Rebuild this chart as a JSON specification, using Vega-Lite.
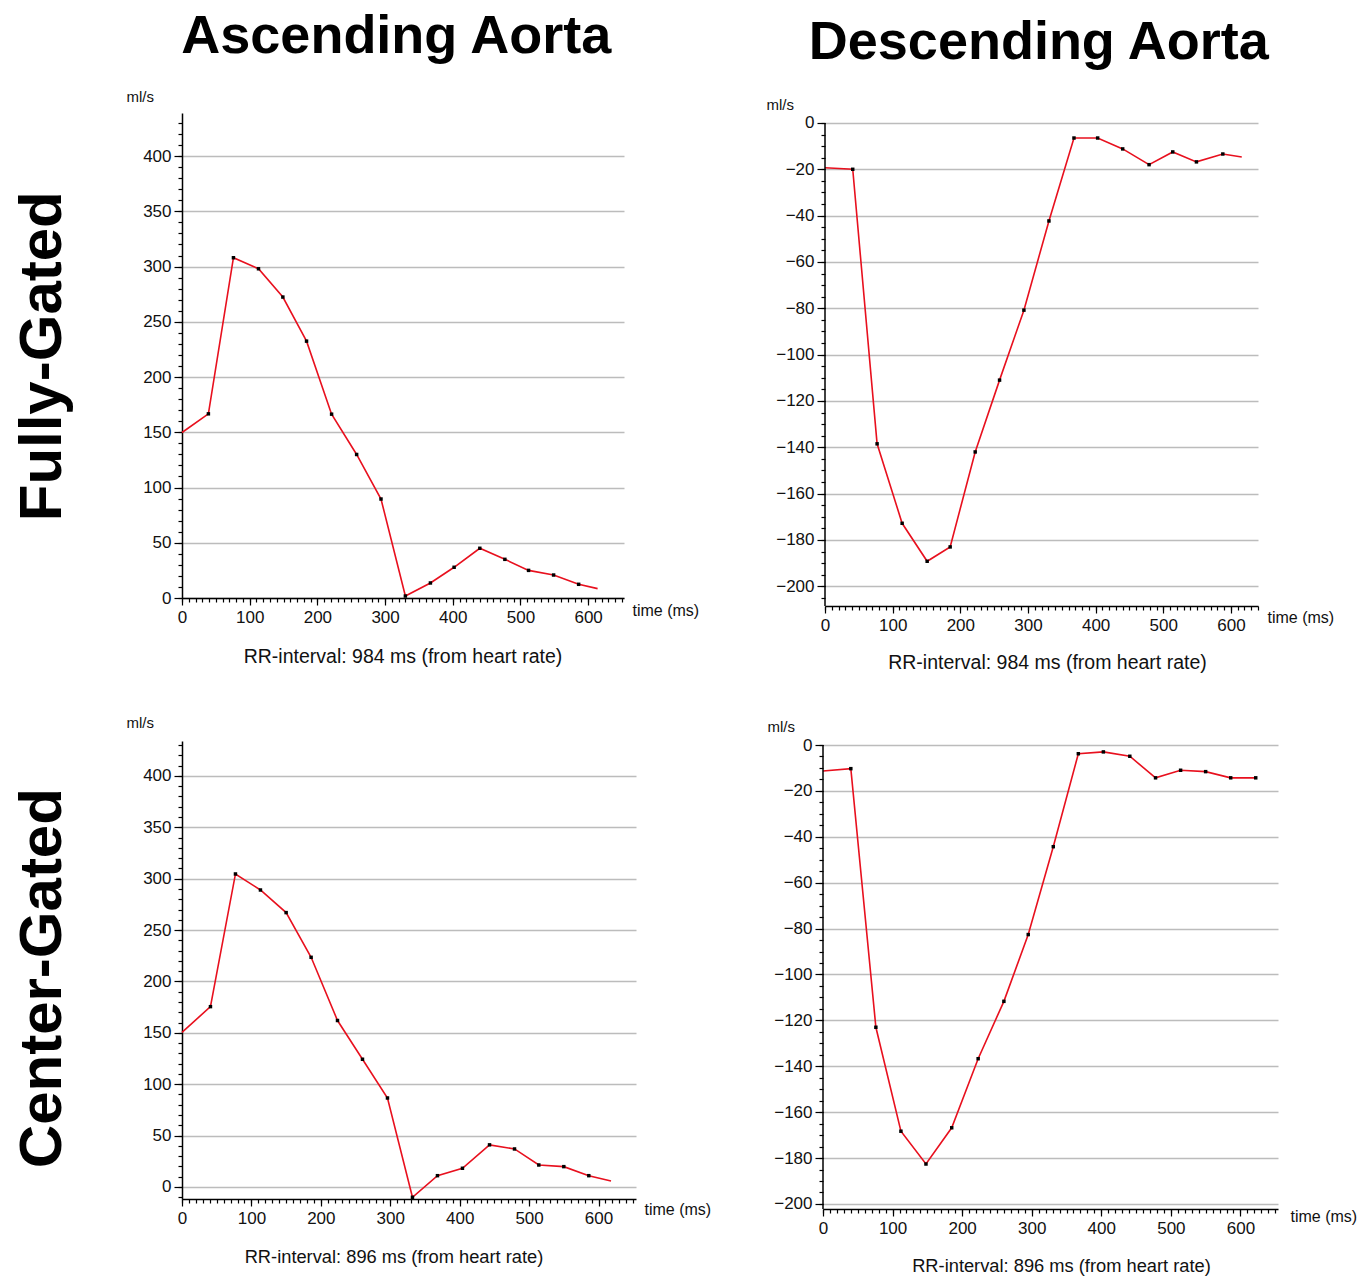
{
  "$schema": "https://vega.github.io/schema/vega-lite/v6.json",
  "padding": {"left": 12, "top": 10, "right": 5, "bottom": 2},
  "background": "white",
  "config": {
    "view": {"stroke": null},
    "axis": {
      "labelFont": "Liberation Sans", "labelFontSize": 17, "labelColor": "#111111", "labelFlush": false,
      "domainColor": "#000000", "domainWidth": 1.5, "tickColor": "#000000", "tickWidth": 1.2,
      "gridColor": "#bcbcbc", "gridWidth": 1.5, "labelPadding": 3,
      "titleFont": "Liberation Sans", "titleFontWeight": "normal", "titleColor": "#111111"
    },
    "title": {"font": "Liberation Sans", "color": "#000000"}
  },
  "datasets": {
    "fa": [
      {"t": 0, "v": 149.8, "dot": false}, {"t": 39, "v": 166.7, "dot": true}, {"t": 76, "v": 308, "dot": true},
      {"t": 113, "v": 298, "dot": true}, {"t": 149, "v": 272.4, "dot": true}, {"t": 184, "v": 232.5, "dot": true},
      {"t": 221, "v": 166.4, "dot": true}, {"t": 258, "v": 129.9, "dot": true}, {"t": 294, "v": 89.6, "dot": true},
      {"t": 330, "v": 1.8, "dot": true}, {"t": 367, "v": 13.6, "dot": true}, {"t": 402, "v": 27.8, "dot": true},
      {"t": 440, "v": 45, "dot": true}, {"t": 477, "v": 35, "dot": true}, {"t": 512, "v": 25, "dot": true},
      {"t": 549, "v": 20.8, "dot": true}, {"t": 586, "v": 12.4, "dot": true}, {"t": 614, "v": 8.5, "dot": false}
    ],
    "fd": [
      {"t": 0, "v": -19.3, "dot": false}, {"t": 41, "v": -20, "dot": true}, {"t": 77, "v": -138.5, "dot": true},
      {"t": 114, "v": -172.8, "dot": true}, {"t": 151, "v": -189.2, "dot": true}, {"t": 185, "v": -183, "dot": true},
      {"t": 222, "v": -142, "dot": true}, {"t": 258, "v": -111, "dot": true}, {"t": 294, "v": -80.8, "dot": true},
      {"t": 331, "v": -42.3, "dot": true}, {"t": 368, "v": -6.5, "dot": true}, {"t": 403, "v": -6.5, "dot": true},
      {"t": 440, "v": -11.2, "dot": true}, {"t": 479, "v": -18, "dot": true}, {"t": 514, "v": -12.5, "dot": true},
      {"t": 549, "v": -16.8, "dot": true}, {"t": 588, "v": -13.4, "dot": true}, {"t": 616, "v": -14.7, "dot": false}
    ],
    "ca": [
      {"t": 0, "v": 150.5, "dot": false}, {"t": 41, "v": 175.5, "dot": true}, {"t": 77, "v": 304.6, "dot": true},
      {"t": 113, "v": 289, "dot": true}, {"t": 150, "v": 267, "dot": true}, {"t": 186, "v": 223.5, "dot": true},
      {"t": 224, "v": 162, "dot": true}, {"t": 260, "v": 124.3, "dot": true}, {"t": 296, "v": 86.6, "dot": true},
      {"t": 332, "v": -10, "dot": true}, {"t": 368, "v": 11, "dot": true}, {"t": 404, "v": 18.2, "dot": true},
      {"t": 443, "v": 41, "dot": true}, {"t": 479, "v": 37, "dot": true}, {"t": 514, "v": 21.4, "dot": true},
      {"t": 550, "v": 19.8, "dot": true}, {"t": 586, "v": 11, "dot": true}, {"t": 618, "v": 5.8, "dot": false}
    ],
    "cd": [
      {"t": 0, "v": -11.3, "dot": false}, {"t": 40, "v": -10.3, "dot": true}, {"t": 76, "v": -123, "dot": true},
      {"t": 112, "v": -168.3, "dot": true}, {"t": 148, "v": -182.6, "dot": true}, {"t": 185, "v": -166.8, "dot": true},
      {"t": 223, "v": -136.7, "dot": true}, {"t": 260, "v": -111.7, "dot": true}, {"t": 295, "v": -82.6, "dot": true},
      {"t": 331, "v": -44.3, "dot": true}, {"t": 367, "v": -3.8, "dot": true}, {"t": 403, "v": -3.0, "dot": true},
      {"t": 441, "v": -4.9, "dot": true}, {"t": 478, "v": -14.3, "dot": true}, {"t": 514, "v": -11, "dot": true},
      {"t": 550, "v": -11.6, "dot": true}, {"t": 586, "v": -14.3, "dot": true}, {"t": 622, "v": -14.3, "dot": true}
    ]
  },
  "spacing": 42,
  "vconcat": [
    {
      "title": {"text": "Fully-Gated", "orient": "left", "fontSize": 60, "fontWeight": "bold", "offset": 52, "anchor": "middle", "dx": -15},
      "spacing": 67,
      "hconcat": [
        {
          "title": {"text": "Ascending Aorta", "fontSize": 54, "fontWeight": "bold", "offset": 25, "anchor": "middle", "dx": -16},
          "vconcat": [
            {
              "width": 442, "height": 485,
              "title": {"text": "RR-interval: 984 ms (from heart rate)", "orient": "bottom", "offset": 23, "fontSize": 19.5, "fontWeight": "normal", "color": "#111111", "frame": "group", "anchor": "middle"},
              "data": {"name": "fa"},
              "resolve": {"axis": {"x": "independent", "y": "independent"}},
              "layer": [
                {
                  "mark": {"type": "line", "color": "#e8101e", "strokeWidth": 1.6},
                  "encoding": {
                    "x": {"field": "t", "type": "quantitative", "scale": {"domain": [0, 653], "nice": false, "zero": false},
                      "axis": {"orient": "bottom", "values": [0, 100, 200, 300, 400, 500, 600], "tickSize": 7, "grid": false, "labelPadding": 4,
                        "title": "time (ms)", "titleFontSize": 16, "titleX": 450, "titleY": 12, "titleAlign": "left", "titleBaseline": "middle", "titleAngle": 0}},
                    "y": {"field": "v", "type": "quantitative", "scale": {"domain": [0, 439], "nice": false, "zero": false},
                      "axis": {"orient": "left", "values": [0, 50, 100, 150, 200, 250, 300, 350, 400], "tickSize": 8, "grid": true,
                        "title": "ml/s", "titleFontSize": 15, "titleAngle": 0, "titleX": -56, "titleY": -17, "titleAlign": "left", "titleBaseline": "middle"}}
                  }
                },
                {
                  "transform": [{"filter": "datum.dot"}],
                  "mark": {"type": "square", "color": "#000000", "size": 12, "opacity": 1},
                  "encoding": {
                    "x": {"field": "t", "type": "quantitative",
                      "axis": {"orient": "bottom", "values": [0,10,20,30,40,50,60,70,80,90,100,110,120,130,140,150,160,170,180,190,200,210,220,230,240,250,260,270,280,290,300,310,320,330,340,350,360,370,380,390,400,410,420,430,440,450,460,470,480,490,500,510,520,530,540,550,560,570,580,590,600,610,620,630,640,650], "labels": false, "tickSize": 4, "domain": false, "grid": false, "title": null}},
                    "y": {"field": "v", "type": "quantitative",
                      "axis": {"orient": "left", "values": [0,10,20,30,40,50,60,70,80,90,100,110,120,130,140,150,160,170,180,190,200,210,220,230,240,250,260,270,280,290,300,310,320,330,340,350,360,370,380,390,400,410,420,430], "labels": false, "tickSize": 4, "domain": false, "grid": false, "title": null}}
                  }
                }
              ]
            }
          ]
        },
        {
          "title": {"text": "Descending Aorta", "fontSize": 54, "fontWeight": "bold", "offset": 27, "anchor": "middle", "dx": -11},
          "vconcat": [
            {
              "width": 433, "height": 493,
              "title": {"text": "RR-interval: 984 ms (from heart rate)", "orient": "bottom", "offset": 21, "fontSize": 19.5, "fontWeight": "normal", "color": "#111111", "frame": "group", "anchor": "middle", "dx": 6},
              "data": {"name": "fd"},
              "resolve": {"axis": {"x": "independent", "y": "independent"}},
              "layer": [
                {
                  "mark": {"type": "line", "color": "#e8101e", "strokeWidth": 1.6},
                  "encoding": {
                    "x": {"field": "t", "type": "quantitative", "scale": {"domain": [0, 640], "nice": false, "zero": false},
                      "axis": {"orient": "bottom", "values": [0, 100, 200, 300, 400, 500, 600], "tickSize": 7, "grid": false, "labelPadding": 4,
                        "title": "time (ms)", "titleFontSize": 16, "titleX": 442, "titleY": 11, "titleAlign": "left", "titleBaseline": "middle", "titleAngle": 0}},
                    "y": {"field": "v", "type": "quantitative", "scale": {"domain": [-208.5, 4.3], "nice": false, "zero": false},
                      "axis": {"orient": "left", "values": [0, -20, -40, -60, -80, -100, -120, -140, -160, -180, -200], "tickSize": 8, "grid": true, "domain": false,
                        "title": "ml/s", "titleFontSize": 15, "titleAngle": 0, "titleX": -59, "titleY": -9, "titleAlign": "left", "titleBaseline": "middle"}}
                  }
                },
                {
                  "transform": [{"filter": "datum.dot"}],
                  "mark": {"type": "square", "color": "#000000", "size": 12, "opacity": 1},
                  "encoding": {
                    "x": {"field": "t", "type": "quantitative",
                      "axis": {"orient": "bottom", "values": [0,10,20,30,40,50,60,70,80,90,100,110,120,130,140,150,160,170,180,190,200,210,220,230,240,250,260,270,280,290,300,310,320,330,340,350,360,370,380,390,400,410,420,430,440,450,460,470,480,490,500,510,520,530,540,550,560,570,580,590,600,610,620,630,640], "labels": false, "tickSize": 4, "domain": false, "grid": false, "title": null}},
                    "y": {"field": "v", "type": "quantitative",
                      "axis": {"orient": "left", "values": [0,-5,-10,-15,-20,-25,-30,-35,-40,-45,-50,-55,-60,-65,-70,-75,-80,-85,-90,-95,-100,-105,-110,-115,-120,-125,-130,-135,-140,-145,-150,-155,-160,-165,-170,-175,-180,-185,-190,-195,-200,-205], "labels": false, "tickSize": 4, "domain": false, "grid": false, "title": null}}
                  }
                },
                {
                  "data": {"values": [{}]},
                  "mark": {"type": "rule", "color": "#000000", "strokeWidth": 1.5},
                  "encoding": {
                    "x": {"datum": 0, "type": "quantitative", "axis": null},
                    "y": {"datum": 0, "type": "quantitative", "axis": null},
                    "y2": {"datum": -208.5}
                  }
                }
              ]
            }
          ]
        }
      ]
    },
    {
      "title": {"text": "Center-Gated", "orient": "left", "fontSize": 60, "fontWeight": "bold", "offset": 52, "anchor": "middle", "dx": 17},
      "spacing": 56,
      "hconcat": [
        {
          "width": 454, "height": 458,
          "title": {"text": "RR-interval: 896 ms (from heart rate)", "orient": "bottom", "offset": 23, "fontSize": 18.3, "fontWeight": "normal", "color": "#111111", "frame": "group", "anchor": "middle", "dx": -15},
          "data": {"name": "ca"},
          "resolve": {"axis": {"x": "independent", "y": "independent"}},
          "layer": [
            {
              "mark": {"type": "line", "color": "#e8101e", "strokeWidth": 1.6},
              "encoding": {
                "x": {"field": "t", "type": "quantitative", "scale": {"domain": [0, 654], "nice": false, "zero": false},
                  "axis": {"orient": "bottom", "values": [0, 100, 200, 300, 400, 500, 600], "tickSize": 7, "grid": false, "labelPadding": 4,
                    "title": "time (ms)", "titleFontSize": 16, "titleX": 462, "titleY": 10, "titleAlign": "left", "titleBaseline": "middle", "titleAngle": 0}},
                "y": {"field": "v", "type": "quantitative", "scale": {"domain": [-11.7, 434], "nice": false, "zero": false},
                  "axis": {"orient": "left", "values": [0, 50, 100, 150, 200, 250, 300, 350, 400], "tickSize": 8, "grid": true,
                    "title": "ml/s", "titleFontSize": 15, "titleAngle": 0, "titleX": -56, "titleY": -19, "titleAlign": "left", "titleBaseline": "middle"}}
              }
            },
            {
              "transform": [{"filter": "datum.dot"}],
              "mark": {"type": "square", "color": "#000000", "size": 12, "opacity": 1},
              "encoding": {
                "x": {"field": "t", "type": "quantitative",
                  "axis": {"orient": "bottom", "values": [0,10,20,30,40,50,60,70,80,90,100,110,120,130,140,150,160,170,180,190,200,210,220,230,240,250,260,270,280,290,300,310,320,330,340,350,360,370,380,390,400,410,420,430,440,450,460,470,480,490,500,510,520,530,540,550,560,570,580,590,600,610,620,630,640,650], "labels": false, "tickSize": 4, "domain": false, "grid": false, "title": null}},
                "y": {"field": "v", "type": "quantitative",
                  "axis": {"orient": "left", "values": [-10,0,10,20,30,40,50,60,70,80,90,100,110,120,130,140,150,160,170,180,190,200,210,220,230,240,250,260,270,280,290,300,310,320,330,340,350,360,370,380,390,400,410,420,430], "labels": false, "tickSize": 4, "domain": false, "grid": false, "title": null}}
              }
            }
          ]
        },
        {
          "width": 455, "height": 468,
          "title": {"text": "RR-interval: 896 ms (from heart rate)", "orient": "bottom", "offset": 22, "fontSize": 18.3, "fontWeight": "normal", "color": "#111111", "frame": "group", "anchor": "middle", "dx": 11},
          "data": {"name": "cd"},
          "resolve": {"axis": {"x": "independent", "y": "independent"}},
          "layer": [
            {
              "mark": {"type": "line", "color": "#e8101e", "strokeWidth": 1.6},
              "encoding": {
                "x": {"field": "t", "type": "quantitative", "scale": {"domain": [0, 654], "nice": false, "zero": false},
                  "axis": {"orient": "bottom", "values": [0, 100, 200, 300, 400, 500, 600], "tickSize": 7, "grid": false, "labelPadding": 4,
                    "title": "time (ms)", "titleFontSize": 16, "titleX": 467, "titleY": 7, "titleAlign": "left", "titleBaseline": "middle", "titleAngle": 0}},
                "y": {"field": "v", "type": "quantitative", "scale": {"domain": [-202.2, 1.75], "nice": false, "zero": false},
                  "axis": {"orient": "left", "values": [0, -20, -40, -60, -80, -100, -120, -140, -160, -180, -200], "tickSize": 8, "grid": true, "domain": false,
                    "title": "ml/s", "titleFontSize": 15, "titleAngle": 0, "titleX": -56, "titleY": -15, "titleAlign": "left", "titleBaseline": "middle"}}
              }
            },
            {
              "transform": [{"filter": "datum.dot"}],
              "mark": {"type": "square", "color": "#000000", "size": 12, "opacity": 1},
              "encoding": {
                "x": {"field": "t", "type": "quantitative",
                  "axis": {"orient": "bottom", "values": [0,10,20,30,40,50,60,70,80,90,100,110,120,130,140,150,160,170,180,190,200,210,220,230,240,250,260,270,280,290,300,310,320,330,340,350,360,370,380,390,400,410,420,430,440,450,460,470,480,490,500,510,520,530,540,550,560,570,580,590,600,610,620,630,640,650], "labels": false, "tickSize": 4, "domain": false, "grid": false, "title": null}},
                "y": {"field": "v", "type": "quantitative",
                  "axis": {"orient": "left", "values": [0,-5,-10,-15,-20,-25,-30,-35,-40,-45,-50,-55,-60,-65,-70,-75,-80,-85,-90,-95,-100,-105,-110,-115,-120,-125,-130,-135,-140,-145,-150,-155,-160,-165,-170,-175,-180,-185,-190,-195,-200], "labels": false, "tickSize": 4, "domain": false, "grid": false, "title": null}}
              }
            },
            {
              "data": {"values": [{}]},
              "mark": {"type": "rule", "color": "#000000", "strokeWidth": 1.5},
              "encoding": {
                "x": {"datum": 0, "type": "quantitative", "axis": null},
                "y": {"datum": 0, "type": "quantitative", "axis": null},
                "y2": {"datum": -202.2}
              }
            }
          ]
        }
      ]
    }
  ]
}
